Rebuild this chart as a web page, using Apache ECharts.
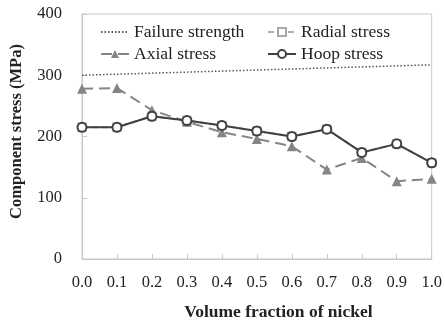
<!DOCTYPE html>
<html>
<head>
<meta charset="utf-8">
<script src="https://cdn.jsdelivr.net/npm/echarts@6/dist/echarts.min.js"></script>
<style>html,body{margin:0;padding:0;background:#fff}#c{width:445px;height:326px}</style>
</head>
<body>
<div id="c"></div>
<script>
// Volume fraction of nickel (x positions)
const fractions = [0.0, 0.1, 0.2, 0.3, 0.4, 0.5, 0.6, 0.7, 0.8, 0.9, 1.0];
// Component stresses in MPa
const hoopStress   = [215, 215, 233, 226, 218, 209, 200, 212, 174, 188, 157];
const radialStress = [215, 215, 233, 226, 218, 209, 200, 212, 174, 188, 157];
const axialStress  = [278, 279, 243, 224, 207, 196, 184, 146, 165, 127, 131];
// Failure strength: straight line between its end points
const failureX = [0.0, 1.0];
const failureStrength = [300, 317];

const pairs = (xs, ys) => xs.map((x, i) => [x, ys[i]]);
const serif = '"Liberation Serif", "DejaVu Serif", serif';

const chart = echarts.init(document.getElementById('c'));
const legendBase = {
  itemWidth: 28, itemHeight: 10, itemGap: 4, padding: 0,
  textStyle: { fontFamily: serif, fontSize: 17.5, color: '#222' },
  selectedMode: false
};
chart.setOption({
  animation: false,
  backgroundColor: '#fff',
  grid: { left: 79, right: 11, top: 14, bottom: 65, show: true, borderColor: '#c8c8c8', borderWidth: 1 },
  legend: [
    Object.assign({ data: ['Failure strength'], left: 100, top: 23 }, legendBase),
    Object.assign({ data: ['Radial stress'], left: 267, top: 23 }, legendBase),
    Object.assign({ data: ['Axial stress'], left: 100, top: 45 }, legendBase),
    Object.assign({ data: ['Hoop stress'], left: 267, top: 45 }, legendBase)
  ],
  xAxis: {
    type: 'value', min: 0, max: 1, interval: 0.1,
    name: 'Volume fraction of nickel', nameLocation: 'middle', nameGap: 44,
    nameTextStyle: { fontFamily: serif, fontSize: 17.5, fontWeight: 'bold', color: '#222', padding: [0, 0, 0, 43] },
    axisLine: { lineStyle: { color: '#c8c8c8' } },
    axisTick: { inside: true, length: 5, lineStyle: { color: '#c8c8c8' } },
    axisLabel: { fontFamily: serif, fontSize: 16.5, color: '#222', margin: 15, formatter: v => v.toFixed(1) },
    splitLine: { show: false }
  },
  yAxis: {
    type: 'value', min: 0, max: 400, interval: 100,
    name: 'Component stress (MPa)', nameLocation: 'middle', nameGap: 57,
    nameTextStyle: { fontFamily: serif, fontSize: 16.5, fontWeight: 'bold', color: '#222', padding: [0, 0, 0, 10] },
    axisLine: { show: true, lineStyle: { color: '#c8c8c8' } },
    axisTick: { show: true, inside: true, length: 5, lineStyle: { color: '#c8c8c8' } },
    axisLabel: { fontFamily: serif, fontSize: 16.5, color: '#222', margin: 20 },
    splitLine: { show: false }
  },
  series: [
    {
      name: 'Failure strength', type: 'line', data: pairs(failureX, failureStrength),
      symbol: 'none', lineStyle: { color: '#555', width: 1.5, type: [1.5, 2] },
      itemStyle: { color: 'rgba(0,0,0,0)' }
    },
    {
      name: 'Radial stress', type: 'line', data: pairs(fractions, radialStress),
      symbol: 'rect', symbolSize: 8, z: 1,
      lineStyle: { color: '#b0b0b0', width: 2, type: [6, 4] },
      itemStyle: { color: '#fff', borderColor: '#a8a8a8', borderWidth: 1.5 }
    },
    {
      name: 'Axial stress', type: 'line', data: pairs(fractions, axialStress),
      symbol: 'triangle', symbolSize: 10, z: 2,
      lineStyle: { color: '#858585', width: 2, type: [11, 6] },
      itemStyle: { color: '#858585' }
    },
    {
      name: 'Hoop stress', type: 'line', data: pairs(fractions, hoopStress),
      symbol: 'circle', symbolSize: 9, z: 3,
      lineStyle: { color: '#404040', width: 2 },
      itemStyle: { color: '#fff', borderColor: '#404040', borderWidth: 2 }
    }
  ]
});
</script>
</body>
</html>
